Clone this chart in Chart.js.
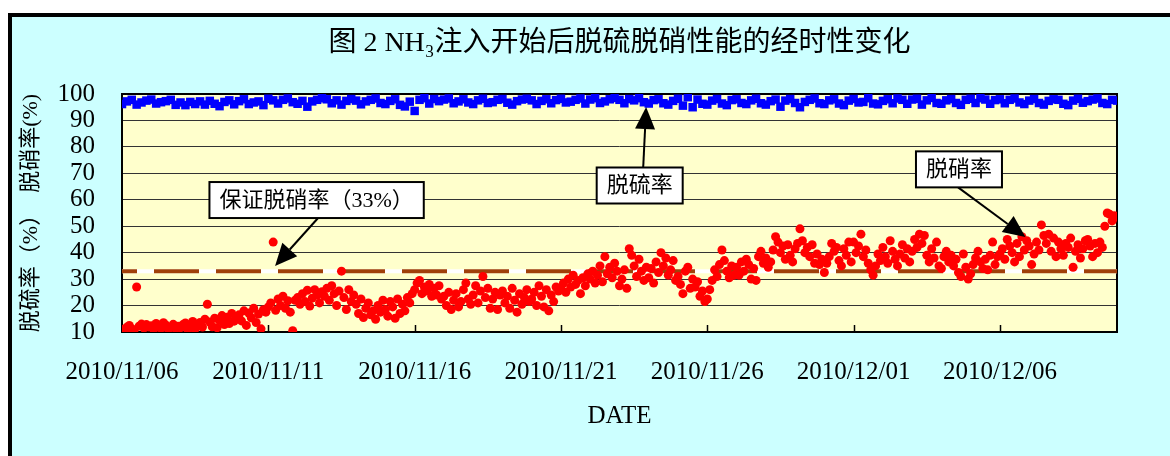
<!DOCTYPE html>
<html lang="zh">
<head>
<meta charset="utf-8">
<title>NH₃注入开始后脱硫脱硝性能的经时性变化</title>
<script src="https://cdn.jsdelivr.net/npm/chart.js@4/dist/chart.umd.min.js"></script>
<style>
  html, body { margin: 0; padding: 0; background: #fff; overflow: hidden; width: 1170px; height: 456px; }
  #frame { position: absolute; left: 8px; top: 13px; width: 1400px; height: 700px;
           border-left: 4px solid #000; border-top: 4px solid #000; background: #CCFFFF; }
  #chart { position: absolute; left: 0; top: 0; }
</style>
</head>
<body>
<div id="frame"></div>
<canvas id="chart" width="1170" height="456"></canvas>
<script>
// Time axis: days since 2010/11/06 00:00
const dayRange = [0, 34];
const so2ReadingsPerDay = 6;    // every 4 hours
const noxReadingsPerDay = 12;   // every 2 hours

// X-axis ticks (days since start) and their date labels
const tickDays = [0, 5, 10, 15, 20, 25, 30];
const tickLabels = ['2010/11/06', '2010/11/11', '2010/11/16', '2010/11/21',
                    '2010/11/26', '2010/12/01', '2010/12/06'];

// 脱硫率 (%), one row per day
const desulfRate = [
  96.2, 97.2, 97.8, 96.0, 96.8, 97.5,
  97.9, 96.4, 96.9, 97.3, 97.8, 95.9,
  96.8, 95.8, 97.0, 96.2, 97.2, 96.0,
  97.4, 96.3, 95.4, 97.0, 97.6, 96.1,
  97.3, 98.0, 96.2, 96.8, 97.2, 95.8,
  98.2, 97.6, 96.4, 97.8, 98.3, 96.9,
  96.3, 97.4, 95.2, 97.2, 97.8, 98.4,
  98.0, 96.5, 97.6, 96.0, 97.4, 98.1,
  97.5, 96.1, 97.2, 97.8, 98.3, 96.6,
  96.2, 97.4, 98.0, 95.9, 95.3, 97.1,
  93.6, 97.8, 98.4, 96.4, 98.1, 97.3,
  97.9, 98.3, 96.5, 97.2, 98.0, 96.8,
  96.2, 97.6, 98.2, 96.6, 96.9, 97.8,
  98.1, 96.7, 96.0, 97.3, 97.9, 98.2,
  97.6, 96.2, 97.4, 98.0, 96.5, 97.7,
  98.2, 96.8, 97.1, 97.8, 98.3, 96.4,
  97.9, 98.4, 96.6, 97.2, 98.0, 98.5,
  97.8, 96.5, 98.1, 97.6, 98.4, 96.9,
  96.4, 97.7, 98.0, 96.5, 96.0, 97.4,
  98.2, 95.6, 98.8, 95.0, 97.9, 96.3,
  96.0, 97.5, 98.1, 96.4, 95.8, 97.7,
  98.0, 96.6, 96.2, 97.6, 98.2, 96.5,
  96.0, 97.3, 97.9, 95.2, 97.5, 98.1,
  96.6, 95.0, 97.0, 97.8, 98.3, 96.5,
  96.2, 97.6, 98.0, 96.4, 95.8, 97.5,
  98.1, 96.8, 97.0, 98.4, 96.4, 96.1,
  97.4, 98.0, 96.5, 98.3, 97.8, 96.3,
  97.9, 98.2, 96.0, 97.6, 98.5, 96.6,
  96.3, 97.6, 98.1, 96.6, 95.9, 97.8,
  98.2, 96.6, 98.4, 97.9, 96.3, 97.7,
  98.0, 96.5, 97.8, 98.3, 96.8, 96.2,
  97.5, 98.1, 96.6, 96.0, 97.4, 98.0,
  97.8, 96.3, 95.8, 97.5, 98.2, 96.7,
  97.3, 97.9, 98.3, 96.6, 96.2, 97.8,
  97.5
];

// 脱硝率 (%), one row per day
const denoxRate = [
  11.0, 10.5, 11.8, 12.5, 11.2, 10.8, 27.0, 12.2, 13.0, 11.5, 12.8, 11.9,
  12.4, 11.0, 13.2, 12.0, 11.4, 13.5, 12.6, 10.9, 11.8, 12.9, 11.3, 12.2,
  11.6, 12.8, 13.4, 10.8, 12.1, 14.0, 11.2, 12.5, 13.6, 11.9, 14.8, 20.5,
  13.8, 12.0, 15.2, 11.6, 14.4, 16.2, 12.8, 15.6, 13.2, 17.0, 14.1, 15.8,
  16.5, 14.2, 18.0, 12.5, 17.2, 15.4, 19.0, 13.6, 16.8, 11.2, 18.4, 17.5,
  19.5, 21.0, 44.0, 18.2, 22.5, 20.0, 23.5, 19.0, 21.8, 17.5, 10.5, 22.0,
  23.0, 20.5, 24.5, 21.5, 25.8, 19.8, 22.8, 26.0, 24.0, 21.0, 25.2, 23.5,
  26.5, 22.0, 27.5, 24.5, 20.0, 25.5, 33.0, 23.0, 18.5, 26.0, 21.5, 24.0,
  20.5, 17.0, 22.5, 15.5, 19.0, 21.0, 16.5, 18.0, 14.8, 20.0, 17.5, 22.0,
  18.5, 16.0, 21.5, 19.5, 15.2, 22.5, 17.0, 20.5, 18.0, 23.0, 21.0, 24.5,
  26.0, 28.5, 29.5, 24.5, 27.0, 25.5, 28.0, 23.5, 26.5, 24.0, 27.5, 22.5,
  23.5, 20.0, 25.0, 18.5, 22.0, 24.5, 19.5, 21.5, 26.0, 28.5, 22.5, 20.5,
  24.0, 27.5, 21.0, 25.5, 31.0, 23.0, 26.5, 19.0, 22.5, 25.0, 18.5, 24.0,
  25.5, 21.0, 23.5, 19.0, 26.5, 22.0, 17.5, 24.5, 20.5, 23.0, 26.0, 21.5,
  22.5, 25.0, 20.0, 27.5, 23.5, 19.5, 26.0, 18.0, 24.0, 21.5, 27.0, 25.5,
  26.5, 28.5, 25.0, 30.0, 27.0, 31.5, 28.0, 29.5, 24.5, 30.5, 27.5, 32.0,
  30.0, 33.0, 28.5, 31.5, 35.0, 29.0, 38.5, 32.0, 34.5, 30.5, 36.0, 33.0,
  27.5, 30.0, 33.5, 26.5, 41.5, 39.0, 35.0, 31.0, 37.5, 33.0, 29.5, 34.5,
  30.5, 34.0, 28.5, 36.5, 32.5, 40.0, 35.0, 38.0, 31.5, 33.5, 37.0, 29.5,
  31.0, 28.0, 24.5, 33.0, 34.5, 26.5, 30.0, 27.0, 29.0, 23.5, 25.5, 21.5,
  22.5, 26.0, 29.5, 33.5, 31.0, 35.5, 41.0, 37.0, 33.0, 30.5, 35.0, 31.5,
  34.5, 31.5, 36.5, 33.0, 37.5, 35.5, 30.0, 34.0, 29.5, 38.5, 40.5, 36.0,
  38.0, 34.5, 36.5, 41.0, 46.0, 44.0, 40.0, 42.5, 37.5, 43.0, 39.0, 36.5,
  41.5, 43.5, 49.0, 44.5, 40.0, 42.0, 38.5, 43.0, 36.0, 39.5, 35.5, 37.5,
  32.5, 36.0, 38.5, 43.5, 40.5, 42.0, 37.0, 35.0, 41.5, 39.0, 44.0, 36.5,
  44.0, 40.0, 42.5, 47.0, 38.5, 41.0, 36.0, 33.5, 31.5, 35.0, 39.5, 37.0,
  42.0, 38.5, 36.0, 44.5, 40.5, 37.5, 35.0, 39.5, 43.0, 38.0, 41.5, 36.5,
  40.5, 45.0, 42.0, 47.0, 43.5, 46.5, 39.0, 36.5, 41.5, 38.0, 44.0, 35.0,
  34.0, 38.5, 40.5, 36.5, 39.0, 35.0, 37.5, 32.5, 31.0, 39.5, 34.5, 30.0,
  32.0, 35.5, 38.0, 40.5, 36.5, 34.0, 37.5, 33.5, 39.0, 44.0, 35.5, 38.5,
  39.5, 41.5, 37.5, 45.0, 42.5, 40.0, 36.5, 43.5, 38.5, 46.0, 41.0, 44.5,
  42.5, 35.5, 39.5, 44.0, 41.0, 50.5, 46.5, 43.5, 47.0, 40.5, 45.5, 38.5,
  44.0, 41.5, 39.0, 43.5, 42.0, 45.5, 34.5, 40.5, 43.0, 38.0, 41.5, 44.5,
  45.0, 42.5, 38.5, 43.5, 40.0, 44.0, 42.0, 50.0, 55.0, 54.5, 52.0, 54.0,
  53.5
];

// Guaranteed NOx removal rate (%)
const guaranteedDenox = 33;

// Callout boxes with arrows, placed in data coordinates (day, %)
const callouts = [
  { text: '保证脱硝率（33%）', at: [6.65, 59.9], tailDay: 6.70, side: 'bottom', tip: [5.23, 35.0] },
  { text: '脱硫率',            at: [17.69, 65.4], tailDay: 17.81, side: 'top',    tip: [17.91, 95.1] },
  { text: '脱硝率',            at: [28.6, 71.5],  tailDay: 28.57, side: 'bottom', tip: [30.87, 45.9] }
];

const SERIF = "'Liberation Serif', 'Noto Sans CJK SC', serif";
const toPoints = (arr, perDay) => arr.map((v, i) => ({ x: i / perDay, y: v }));
const flatLine = v => [{ x: dayRange[0], y: v }, { x: dayRange[1], y: v }];

// Plot-area fill, frame, inside tick marks and callouts
const plotDecor = {
  id: 'plotDecor',
  beforeDraw(chart) {
    const { ctx, chartArea: a } = chart;
    ctx.save();
    ctx.fillStyle = '#FFFFCC';
    ctx.fillRect(a.left, a.top, a.right - a.left, a.bottom - a.top);
    ctx.restore();
  },
  beforeDatasetsDraw(chart) {
    const { ctx, chartArea: a, scales: { x } } = chart;
    ctx.save();
    ctx.strokeStyle = '#000';
    ctx.lineWidth = 1.5;
    tickDays.forEach(d => {
      const px = Math.round(x.getPixelForValue(d)) + 0.5;
      ctx.beginPath();
      ctx.moveTo(px, a.bottom);
      ctx.lineTo(px, a.bottom - 7);
      ctx.stroke();
    });
    ctx.lineWidth = 2;
    ctx.strokeRect(a.left, a.top, a.right - a.left, a.bottom - a.top);
    ctx.restore();
  },
  afterDatasetsDraw(chart) {
    const { ctx, scales: { x, y } } = chart;
    ctx.save();
    ctx.font = "22px 'Liberation Serif', 'Noto Sans CJK SC', serif";
    ctx.textAlign = 'center';
    ctx.textBaseline = 'middle';
    callouts.forEach(c => {
      const cx = x.getPixelForValue(c.at[0]);
      const cy = y.getPixelForValue(c.at[1]);
      const w = ctx.measureText(c.text).width + 20;
      const h = 36;
      const tx = x.getPixelForValue(c.tailDay);
      const ty = c.side === 'top' ? cy - h / 2 : cy + h / 2;
      const px = x.getPixelForValue(c.tip[0]);
      const py = y.getPixelForValue(c.tip[1]);
      // arrow
      const ang = Math.atan2(py - ty, px - tx);
      const len = 22, half = 10;
      const bx = px - len * Math.cos(ang), by = py - len * Math.sin(ang);
      ctx.strokeStyle = '#000';
      ctx.lineWidth = 2;
      ctx.beginPath();
      ctx.moveTo(tx, ty);
      ctx.lineTo(bx, by);
      ctx.stroke();
      ctx.fillStyle = '#000';
      ctx.beginPath();
      ctx.moveTo(px, py);
      ctx.lineTo(bx + half * Math.sin(ang), by - half * Math.cos(ang));
      ctx.lineTo(bx - half * Math.sin(ang), by + half * Math.cos(ang));
      ctx.closePath();
      ctx.fill();
      // box
      ctx.fillStyle = '#fff';
      ctx.fillRect(cx - w / 2, cy - h / 2, w, h);
      ctx.lineWidth = 2;
      ctx.strokeRect(cx - w / 2, cy - h / 2, w, h);
      ctx.fillStyle = '#000';
      ctx.fillText(c.text, cx, cy + 1);
    });
    ctx.restore();
  }
};

new Chart(document.getElementById('chart'), {
  type: 'scatter',
  data: {
    datasets: [
      {
        label: '脱硝率',
        data: toPoints(denoxRate, noxReadingsPerDay),
        pointStyle: 'circle',
        pointRadius: 4.5,
        pointBackgroundColor: '#FF0000',
        pointBorderWidth: 0,
        showLine: false
      },
      {
        label: '脱硫率',
        data: toPoints(desulfRate, so2ReadingsPerDay),
        pointStyle: 'rect',
        pointRadius: 6,
        pointBackgroundColor: '#0000FF',
        pointBorderWidth: 0,
        showLine: false
      },
      {
        label: '保证脱硝率',
        data: flatLine(guaranteedDenox),
        showLine: true,
        borderColor: '#A0400A',
        borderWidth: 4,
        borderDash: [45, 17],
        borderDashOffset: 30,
        pointRadius: 0
      },
      {
        label: '',
        data: flatLine(guaranteedDenox),
        showLine: true,
        borderColor: '#FFFFFF',
        borderWidth: 4,
        pointRadius: 0
      }
    ]
  },
  options: {
    responsive: false,
    animation: false,
    events: [],
    layout: { padding: { left: 10, right: 53, top: 17, bottom: 24 } },
    plugins: {
      legend: { display: false },
      tooltip: { enabled: false },
      title: {
        display: true,
        fullSize: false,
        text: '图 2 NH₃注入开始后脱硫脱硝性能的经时性变化',
        color: '#000',
        font: { family: SERIF, size: 28, weight: 'normal' },
        padding: { top: 10, bottom: 33.4 }
      }
    },
    scales: {
      x: {
        type: 'linear',
        min: dayRange[0],
        max: dayRange[1],
        afterBuildTicks: s => { s.ticks = tickDays.map(v => ({ value: v })); },
        afterFit: s => { s.height = 100; },
        grid: { display: false },
        border: { display: false },
        ticks: {
          padding: 17,
          color: '#000',
          maxRotation: 0,
          autoSkip: false,
          font: { family: SERIF, size: 25 },
          callback: v => tickLabels[tickDays.indexOf(v)] ?? ''
        },
        title: {
          display: true,
          text: 'DATE',
          color: '#000',
          font: { family: SERIF, size: 25 },
          padding: { top: 0, bottom: 1 }
        }
      },
      y: {
        min: 10,
        max: 100,
        afterFit: s => { s.width = 112; },
        grid: { color: '#333', lineWidth: 1, drawTicks: false },
        border: { display: false },
        ticks: {
          stepSize: 10,
          autoSkip: false,
          padding: 27,
          color: '#000',
          font: { family: SERIF, size: 25 }
        },
        title: {
          display: true,
          text: '脱硫率（%）  脱硝率(%)',
          color: '#000',
          font: { family: SERIF, size: 22, weight: 'normal' },
          padding: { top: 8, bottom: 0 }
        }
      }
    }
  },
  plugins: [plotDecor]
});
</script>
</body>
</html>
